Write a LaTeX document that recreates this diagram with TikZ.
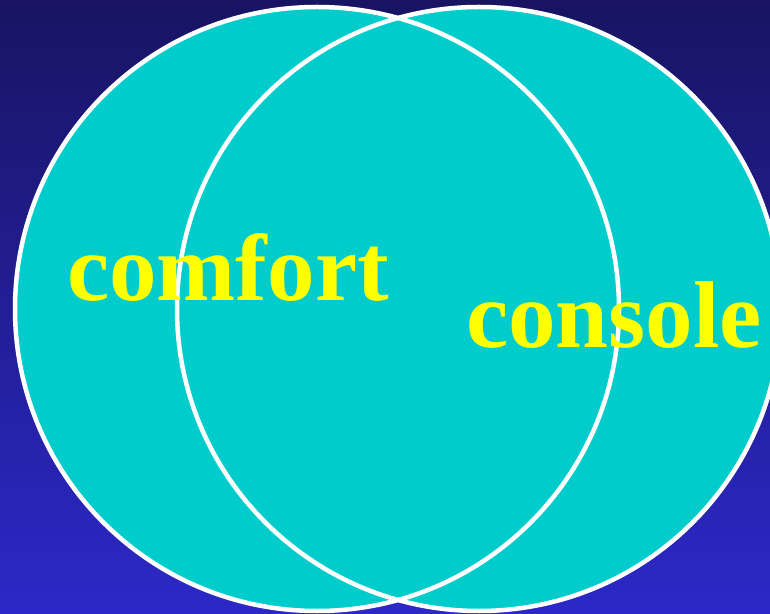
\documentclass[tikz,border=0pt]{standalone}
\usepackage{fontspec}
\setmainfont{Liberation Serif}
\usepackage{xcolor}
\definecolor{skytop}{RGB}{24,20,98}
\definecolor{skybot}{RGB}{44,40,200}
\definecolor{aqua}{HTML}{00CCCC}
\definecolor{lemon}{HTML}{FFFF00}

\begin{document}
\begin{tikzpicture}[
  x=1pt, y=1pt,
  disc/.style={circle, fill=aqua, inner sep=0pt, outer sep=0pt, minimum size=604pt},
  ring/.style={circle, draw=white, line width=4.5pt, inner sep=0pt, outer sep=0pt, minimum size=604pt},
  word/.style={text=lemon, font=\fontsize{95}{95}\selectfont\bfseries, anchor=base, inner sep=0pt}
]
\useasboundingbox (0,0) rectangle (770,613);
\clip (0,0) rectangle (770,613);
\shade[top color=skytop, bottom color=skybot] (0,0) rectangle (770,613);
% the two sets
\node[disc] (left) at (317,304) {};
\node[disc] (right) at (479,304) {};
\node[ring] (leftring) at (left.center) {};
\node[ring] (rightring) at (right.center) {};
% labels
\node[word] (comfort) at (228,312) {comfort};
\node[word] (console) at (614,265) {console};
\end{tikzpicture}
\end{document}
